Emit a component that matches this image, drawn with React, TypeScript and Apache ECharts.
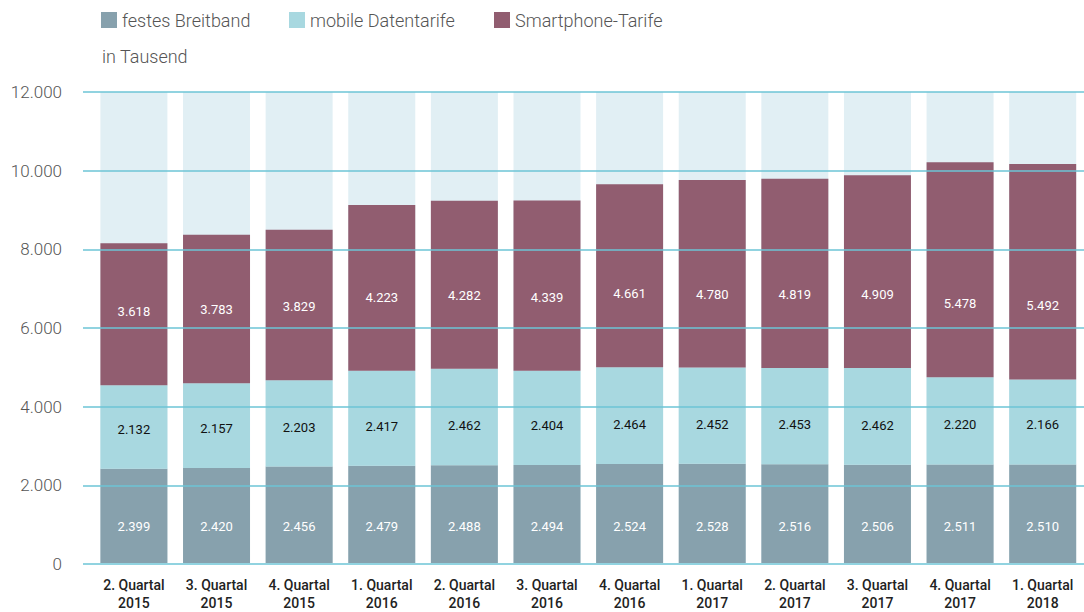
import React, { useEffect, useRef } from "react";
import * as echarts from "echarts";

const categories = [
  "2. Quartal\n2015", "3. Quartal\n2015", "4. Quartal\n2015",
  "1. Quartal\n2016", "2. Quartal\n2016", "3. Quartal\n2016", "4. Quartal\n2016",
  "1. Quartal\n2017", "2. Quartal\n2017", "3. Quartal\n2017", "4. Quartal\n2017",
  "1. Quartal\n2018",
];
const festesBreitband = [2399, 2420, 2456, 2479, 2488, 2494, 2524, 2528, 2516, 2506, 2511, 2510];
const mobileDatentarife = [2132, 2157, 2203, 2417, 2462, 2404, 2464, 2452, 2453, 2462, 2220, 2166];
const smartphoneTarife = [3618, 3783, 3829, 4223, 4282, 4339, 4661, 4780, 4819, 4909, 5478, 5492];
const axisMax = 12000;
const backgroundValues = categories.map(() => axisMax);

const fmt = (v: number) => String(Math.round(v)).replace(/\B(?=(\d{3})+(?!\d))/g, ".");

const FONT = "Roboto";

export default function App() {
  const ref = useRef<HTMLDivElement>(null);
  useEffect(() => {
    document.body.style.margin = "0";
    const chart = echarts.init(ref.current!, null, { renderer: "svg" });
    const legendBase = {
      top: 11,
      padding: 0,
      itemWidth: 16,
      itemHeight: 16,
      icon: "rect",
      textStyle: { fontFamily: FONT, fontSize: 18, color: "#555", fontWeight: 300 },
      selectedMode: false,
    };
    chart.setOption({
      animation: false,
      legend: [
        { ...legendBase, left: 101, data: ["festes Breitband"] },
        { ...legendBase, left: 289, data: ["mobile Datentarife"] },
        { ...legendBase, left: 494, data: ["Smartphone-Tarife"] },
      ],
      title: {
        text: "in Tausend",
        left: 102,
        top: 47,
        padding: 0,
        textStyle: { fontFamily: FONT, fontSize: 18, color: "#555", fontWeight: 300 },
      },
      grid: [
        { left: 92.6, width: 994, top: 92, bottom: 48 },
        { left: 83, right: 0, top: 92, bottom: 48 },
      ],
      xAxis: [
        {
          type: "category",
          gridIndex: 0,
          data: categories,
          axisLine: { show: false },
          axisTick: { show: false },
          axisLabel: {
            fontFamily: FONT,
            fontSize: 14,
            fontWeight: 500,
            color: "#222",
            lineHeight: 18,
            margin: 13,
          },
        },
        { type: "value", gridIndex: 1, show: false, min: 0, max: 1 },
      ],
      yAxis: [
        {
          type: "value",
          gridIndex: 0,
          min: 0,
          max: axisMax,
          interval: 2000,
          show: false,
        },
        {
          type: "value",
          gridIndex: 1,
          min: 0,
          max: axisMax,
          interval: 2000,
          z: 5,
          axisLine: { show: false },
          axisTick: { show: false },
          splitLine: { show: true, lineStyle: { color: "#6cc4d6", width: 1.5 } },
          axisLabel: {
            fontFamily: FONT,
            fontSize: 17,
            fontWeight: 300,
            color: "#555",
            margin: 21,
            formatter: (v: number) => fmt(v),
          },
        },
      ],
      series: [
        {
          name: "bg",
          type: "bar",
          xAxisIndex: 0,
          yAxisIndex: 0,
          data: backgroundValues,
          barWidth: 67,
          barGap: "-100%",
          itemStyle: { color: "#e1eff4" },
          silent: true,
          z: 1,
        },
        {
          name: "festes Breitband",
          type: "bar",
          stack: "total",
          xAxisIndex: 0,
          yAxisIndex: 0,
          data: festesBreitband,
          barWidth: 67,
          itemStyle: { color: "#87a1ad" },
          z: 2,
          label: {
            show: true,
            position: "insideBottom",
            distance: 30,
            color: "#fff",
            fontFamily: FONT,
            fontSize: 13,
            formatter: (p: any) => fmt(p.value),
          },
        },
        {
          name: "mobile Datentarife",
          type: "bar",
          stack: "total",
          xAxisIndex: 0,
          yAxisIndex: 0,
          data: mobileDatentarife,
          barWidth: 67,
          itemStyle: { color: "#a8d8e0" },
          z: 2,
          label: {
            show: true,
            position: "insideBottom",
            distance: 33,
            color: "#111",
            fontFamily: FONT,
            fontSize: 13,
            formatter: (p: any) => fmt(p.value),
          },
        },
        {
          name: "Smartphone-Tarife",
          type: "bar",
          stack: "total",
          xAxisIndex: 0,
          yAxisIndex: 0,
          data: smartphoneTarife,
          barWidth: 67,
          itemStyle: { color: "#915d70" },
          z: 2,
          label: {
            show: true,
            position: "insideBottom",
            distance: 67,
            color: "#fff",
            fontFamily: FONT,
            fontSize: 13,
            formatter: (p: any) => fmt(p.value),
          },
        },
      ],
    });
    return () => chart.dispose();
  }, []);
  return <div ref={ref} style={{ width: 1084, height: 612 }} />;
}
